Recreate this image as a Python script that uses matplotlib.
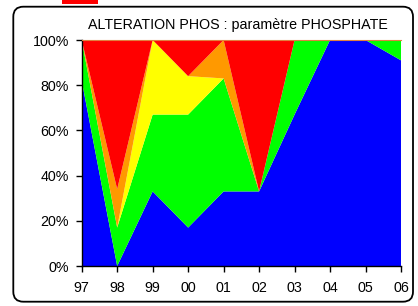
import matplotlib
matplotlib.use("Agg")
import matplotlib.pyplot as plt
from matplotlib.patches import FancyBboxPatch, Rectangle
from matplotlib.ticker import FuncFormatter

plt.rcParams['font.family'] = ['Liberation Sans', 'DejaVu Sans']

years = ['97', '98', '99', '00', '01', '02', '03', '04', '05', '06']
blue = [82, 0, 33, 17, 33, 33, 67, 100, 100, 91]
green = [18, 17, 34, 50, 50, 0, 33, 0, 0, 9]
yellow = [0, 0, 33, 17, 0, 0, 0, 0, 0, 0]
orange = [0, 17, 0, 0, 17, 0, 0, 0, 0, 0]
red = [0, 66, 0, 16, 0, 67, 0, 0, 0, 0]
colors = ['#0000FF', '#00FF00', '#FFFF00', '#FF9900', '#FF0000']
title = "ALTERATION PHOS : paramètre PHOSPHATE"

W, H = 418, 306
fig = plt.figure(figsize=(W / 100, H / 100), dpi=100)

# outer rounded frame
frame = FancyBboxPatch((13.3 / 100, (H - 301.7) / 100), (413 - 13.3) / 100, (301.7 - 6.7) / 100,
                       boxstyle="round,pad=0,rounding_size=0.1",
                       transform=fig.dpi_scale_trans, fill=False, edgecolor='black', lw=1.3)
fig.patches.append(frame)
# small red marker at top
fig.patches.append(Rectangle((62 / 100, (H - 4) / 100), 36 / 100, 0.1,
                             transform=fig.dpi_scale_trans, facecolor='#FF0000', edgecolor='none'))

left, right = 81.7 / W, 401 / W
bottom, top = 1 - 266 / H, 1 - 40 / H
ax = fig.add_axes([left, bottom, right - left, top - bottom])
x = list(range(len(years)))
ax.stackplot(x, blue, green, yellow, orange, red, colors=colors, linewidth=0)
ax.set_xlim(0, len(years) - 1)
ax.set_ylim(0, 100)
ax.set_xticks(x)
ax.set_xticklabels(years)
ax.set_yticks([0, 20, 40, 60, 80, 100])
ax.yaxis.set_major_formatter(FuncFormatter(lambda v, p: f"{int(v)}%"))
ax.tick_params(axis='both', direction='out', length=4, width=1, labelsize=10.3, colors='black')
ax.tick_params(axis='y', pad=5)
ax.tick_params(axis='x', pad=7)
ax.spines['right'].set_visible(False)
ax.spines['top'].set_color('#E08040')
ax.spines['top'].set_linewidth(0.8)
for s in ('left', 'bottom'):
    ax.spines[s].set_color('black')
    ax.spines[s].set_linewidth(1)

fig.text(237.5 / W, 1 - 29.5 / H, title, ha='center', va='baseline', fontsize=10.3)

fig.savefig('out.png', dpi=100)
